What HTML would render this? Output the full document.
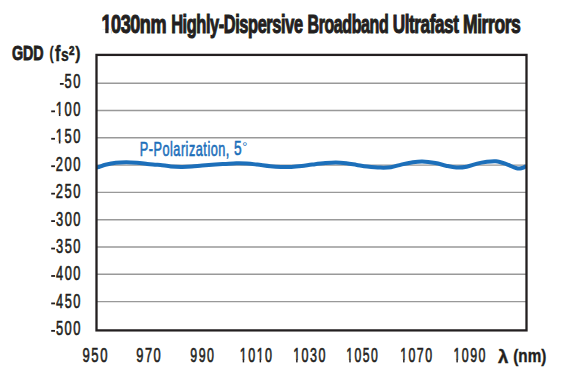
<!DOCTYPE html>
<html><head><meta charset="utf-8"><style>
html,body{margin:0;padding:0;background:#fff;width:575px;height:375px;overflow:hidden}
svg{display:block}
text{font-family:"Liberation Sans",sans-serif}
</style></head><body>
<svg width="575" height="375" viewBox="0 0 575 375">
<g stroke="#999999" stroke-width="1.4" fill="none">
<line x1="96.5" y1="83.20" x2="526.5" y2="83.20"/>
<line x1="96.5" y1="110.50" x2="526.5" y2="110.50"/>
<line x1="96.5" y1="137.80" x2="526.5" y2="137.80"/>
<line x1="96.5" y1="165.10" x2="526.5" y2="165.10"/>
<line x1="96.5" y1="192.40" x2="526.5" y2="192.40"/>
<line x1="96.5" y1="219.70" x2="526.5" y2="219.70"/>
<line x1="96.5" y1="247.00" x2="526.5" y2="247.00"/>
<line x1="96.5" y1="274.30" x2="526.5" y2="274.30"/>
<line x1="96.5" y1="301.60" x2="526.5" y2="301.60"/>
</g>
<path d="M96.60,167.60 C97.17,167.43 98.53,167.07 100.00,166.60 C101.47,166.13 102.75,165.43 105.40,164.80 C108.05,164.17 112.42,163.22 115.90,162.80 C119.38,162.38 122.83,162.30 126.30,162.30 C129.77,162.30 133.22,162.53 136.70,162.80 C140.18,163.07 144.15,163.58 147.20,163.90 C150.25,164.22 152.80,164.53 155.00,164.70 C157.20,164.87 157.75,164.62 160.40,164.90 C163.05,165.18 167.42,166.07 170.90,166.40 C174.38,166.73 177.83,166.87 181.30,166.90 C184.77,166.93 188.22,166.82 191.70,166.60 C195.18,166.38 198.25,165.93 202.20,165.60 C206.15,165.27 211.45,164.88 215.40,164.60 C219.35,164.32 222.42,164.12 225.90,163.90 C229.38,163.68 232.83,163.37 236.30,163.30 C239.77,163.23 243.22,163.28 246.70,163.50 C250.18,163.72 253.25,164.13 257.20,164.60 C261.15,165.07 266.45,165.90 270.40,166.30 C274.35,166.70 277.42,166.90 280.90,167.00 C284.38,167.10 287.83,167.07 291.30,166.90 C294.77,166.73 298.22,166.38 301.70,166.00 C305.18,165.62 308.25,165.08 312.20,164.60 C316.15,164.12 321.45,163.45 325.40,163.10 C329.35,162.75 332.42,162.47 335.90,162.50 C339.38,162.53 342.83,162.90 346.30,163.30 C349.77,163.70 353.22,164.37 356.70,164.90 C360.18,165.43 363.25,166.05 367.20,166.50 C371.15,166.95 376.45,167.48 380.40,167.60 C384.35,167.72 387.42,167.70 390.90,167.20 C394.38,166.70 397.83,165.38 401.30,164.60 C404.77,163.82 408.22,163.02 411.70,162.50 C415.18,161.98 418.25,161.42 422.20,161.50 C426.15,161.58 431.45,162.30 435.40,163.00 C439.35,163.70 442.42,164.95 445.90,165.70 C449.38,166.45 452.83,167.33 456.30,167.50 C459.77,167.67 463.22,167.35 466.70,166.70 C470.18,166.05 474.08,164.38 477.20,163.60 C480.32,162.82 482.28,162.38 485.40,162.00 C488.52,161.62 492.42,160.95 495.90,161.30 C499.38,161.65 502.83,162.93 506.30,164.10 C509.77,165.27 514.08,167.65 516.70,168.30 C519.32,168.95 520.42,168.38 522.00,168.00 C523.58,167.62 525.50,166.33 526.20,166.00" fill="none" stroke="#1c6fba" stroke-width="4" stroke-linecap="butt" stroke-linejoin="round"/>
<rect x="96.5" y="54.9" width="430.0" height="275.5" fill="none" stroke="#231f20" stroke-width="2.3"/>
<text transform="translate(101.48,32.68) scale(0.7247,1)" font-weight="700" font-size="24.93" fill="#231f20" stroke="#231f20" stroke-width="1.05" letter-spacing="-0.62">1030nm</text>
<text transform="translate(171.16,32.68) scale(0.6576,1)" font-weight="700" font-size="24.93" fill="#231f20" stroke="#231f20" stroke-width="1.05" letter-spacing="-0.62">Highly-Dispersive</text>
<text transform="translate(307.58,32.68) scale(0.6406,1)" font-weight="700" font-size="24.93" fill="#231f20" stroke="#231f20" stroke-width="1.05" letter-spacing="-0.62">Broadband</text>
<text transform="translate(392.82,32.68) scale(0.6868,1)" font-weight="700" font-size="24.93" fill="#231f20" stroke="#231f20" stroke-width="1.05" letter-spacing="-0.62">Ultrafast</text>
<text transform="translate(463.01,32.68) scale(0.7041,1)" font-weight="700" font-size="24.93" fill="#231f20" stroke="#231f20" stroke-width="1.05" letter-spacing="-0.62">Mirrors</text>
<text transform="translate(11.91,60.48) scale(0.6766,1)" font-weight="700" font-size="21.15" fill="#231f20" stroke="#231f20" stroke-width="0.85">GDD</text>
<text transform="translate(49.41,59.05) scale(0.7010,1)" font-weight="700" font-size="17.49" fill="#231f20" stroke="#231f20" stroke-width="0.35">(</text>
<text transform="translate(55.02,60.59) scale(0.7717,1)" font-weight="700" font-size="21.34" fill="#231f20" stroke="#231f20" stroke-width="0.43">f</text>
<text transform="translate(60.95,60.53) scale(0.7528,1)" font-weight="700" font-size="18.60" fill="#231f20" stroke="#231f20" stroke-width="0.37">s</text>
<text transform="translate(68.95,54.63) scale(0.7935,1)" font-weight="700" font-size="12.37" fill="#231f20" stroke="#231f20" stroke-width="0.74">2</text>
<text transform="translate(75.14,59.05) scale(0.9039,1)" font-weight="700" font-size="17.49" fill="#231f20" stroke="#231f20" stroke-width="0.35">)</text>
<text transform="translate(64.58,88.30) scale(0.6456,1)" font-weight="400" font-size="20.00" fill="#231f20" stroke="#231f20" stroke-width="0.60" letter-spacing="2.40">50</text>
<text transform="translate(55.82,115.74) scale(0.6466,1)" font-weight="400" font-size="20.00" fill="#231f20" stroke="#231f20" stroke-width="0.60" letter-spacing="2.40">100</text>
<text transform="translate(55.82,143.18) scale(0.6466,1)" font-weight="400" font-size="20.00" fill="#231f20" stroke="#231f20" stroke-width="0.60" letter-spacing="2.40">150</text>
<text transform="translate(55.75,170.62) scale(0.6486,1)" font-weight="400" font-size="20.00" fill="#231f20" stroke="#231f20" stroke-width="0.60" letter-spacing="2.40">200</text>
<text transform="translate(55.75,198.06) scale(0.6486,1)" font-weight="400" font-size="20.00" fill="#231f20" stroke="#231f20" stroke-width="0.60" letter-spacing="2.40">250</text>
<text transform="translate(55.94,225.50) scale(0.6434,1)" font-weight="400" font-size="20.00" fill="#231f20" stroke="#231f20" stroke-width="0.60" letter-spacing="2.40">300</text>
<text transform="translate(55.94,252.94) scale(0.6434,1)" font-weight="400" font-size="20.00" fill="#231f20" stroke="#231f20" stroke-width="0.60" letter-spacing="2.40">350</text>
<text transform="translate(56.07,280.38) scale(0.6400,1)" font-weight="400" font-size="20.00" fill="#231f20" stroke="#231f20" stroke-width="0.60" letter-spacing="2.40">400</text>
<text transform="translate(56.07,307.82) scale(0.6400,1)" font-weight="400" font-size="20.00" fill="#231f20" stroke="#231f20" stroke-width="0.60" letter-spacing="2.40">450</text>
<text transform="translate(55.88,335.26) scale(0.6452,1)" font-weight="400" font-size="20.00" fill="#231f20" stroke="#231f20" stroke-width="0.60" letter-spacing="2.40">500</text>
<text transform="translate(82.51,362.09) scale(0.6463,1)" font-weight="400" font-size="20.27" fill="#231f20" stroke="#231f20" stroke-width="0.61" letter-spacing="2.43">950</text>
<text transform="translate(136.21,362.09) scale(0.6356,1)" font-weight="400" font-size="20.27" fill="#231f20" stroke="#231f20" stroke-width="0.61" letter-spacing="2.43">970</text>
<text transform="translate(190.33,362.09) scale(0.6117,1)" font-weight="400" font-size="20.27" fill="#231f20" stroke="#231f20" stroke-width="0.61" letter-spacing="2.43">990</text>
<text transform="translate(239.75,362.09) scale(0.6177,1)" font-weight="400" font-size="20.27" fill="#231f20" stroke="#231f20" stroke-width="0.61" letter-spacing="2.43">1010</text>
<text transform="translate(293.15,362.09) scale(0.6177,1)" font-weight="400" font-size="20.27" fill="#231f20" stroke="#231f20" stroke-width="0.61" letter-spacing="2.43">1030</text>
<text transform="translate(346.37,362.09) scale(0.6019,1)" font-weight="400" font-size="20.27" fill="#231f20" stroke="#231f20" stroke-width="0.61" letter-spacing="2.43">1050</text>
<text transform="translate(400.16,362.09) scale(0.6098,1)" font-weight="400" font-size="20.27" fill="#231f20" stroke="#231f20" stroke-width="0.61" letter-spacing="2.43">1070</text>
<text transform="translate(453.46,362.09) scale(0.6117,1)" font-weight="400" font-size="20.27" fill="#231f20" stroke="#231f20" stroke-width="0.61" letter-spacing="2.43">1090</text>
<text transform="translate(497.89,362.61) scale(0.9937,1)" font-weight="700" font-size="18.70" fill="#231f20" stroke="#231f20" stroke-width="0.37">λ</text>
<text transform="translate(513.29,361.50) scale(0.8183,1)" font-weight="700" font-size="18.64" fill="#231f20" stroke="#231f20" stroke-width="0.37">(nm)</text>
<text transform="translate(139.77,155.69) scale(0.6076,1)" font-weight="400" font-size="20.89" fill="#1c6fba" stroke="#1c6fba" stroke-width="0.63" letter-spacing="0.84">P-Polarization,</text>
<text transform="translate(233.96,155.49) scale(0.6739,1)" font-weight="400" font-size="20.27" fill="#1c6fba" stroke="#1c6fba" stroke-width="0.61">5</text>
<text transform="translate(242.13,151.00) scale(0.9474,1)" font-weight="400" font-size="13.57" fill="#1c6fba">°</text>
<g fill="#231f20"><rect x="59.9" y="83.00" width="3.80" height="1.8"/><rect x="51.2" y="110.44" width="3.80" height="1.8"/><rect x="51.2" y="137.88" width="3.80" height="1.8"/><rect x="51.2" y="165.32" width="3.80" height="1.8"/><rect x="51.2" y="192.76" width="3.80" height="1.8"/><rect x="51.2" y="220.20" width="3.80" height="1.8"/><rect x="51.2" y="247.64" width="3.80" height="1.8"/><rect x="51.2" y="275.08" width="3.80" height="1.8"/><rect x="51.2" y="302.52" width="3.80" height="1.8"/><rect x="51.2" y="329.96" width="3.80" height="1.8"/></g>
<g><g transform="translate(101.48,32.68) scale(0.7247,1)"><rect fill="#fff" x="-1.95" y="-3.37" width="16.05" height="5.87"/><rect fill="#231f20" x="5.29" y="-3.87" width="4.47" height="4.39"/></g><g transform="translate(55.82,115.74) scale(0.6466,1)"><rect fill="#fff" x="-1.78" y="-2.09" width="13.72" height="4.59"/><rect fill="#231f20" x="4.73" y="-2.59" width="2.37" height="2.89"/></g><g transform="translate(55.82,143.18) scale(0.6466,1)"><rect fill="#fff" x="-1.78" y="-2.09" width="13.72" height="4.59"/><rect fill="#231f20" x="4.73" y="-2.59" width="2.37" height="2.89"/></g><g transform="translate(239.75,362.09) scale(0.6177,1)"><rect fill="#fff" x="-1.76" y="-2.12" width="13.85" height="4.62"/><rect fill="#231f20" x="4.79" y="-2.62" width="2.40" height="2.92"/></g><g transform="translate(239.75,362.09) scale(0.6177,1)"><rect fill="#fff" x="25.61" y="-2.12" width="13.85" height="4.62"/><rect fill="#231f20" x="32.16" y="-2.62" width="2.40" height="2.92"/></g><g transform="translate(293.15,362.09) scale(0.6177,1)"><rect fill="#fff" x="-1.76" y="-2.12" width="13.85" height="4.62"/><rect fill="#231f20" x="4.79" y="-2.62" width="2.40" height="2.92"/></g><g transform="translate(346.37,362.09) scale(0.6019,1)"><rect fill="#fff" x="-1.76" y="-2.12" width="13.85" height="4.62"/><rect fill="#231f20" x="4.79" y="-2.62" width="2.40" height="2.92"/></g><g transform="translate(400.16,362.09) scale(0.6098,1)"><rect fill="#fff" x="-1.76" y="-2.12" width="13.85" height="4.62"/><rect fill="#231f20" x="4.79" y="-2.62" width="2.40" height="2.92"/></g><g transform="translate(453.46,362.09) scale(0.6117,1)"><rect fill="#fff" x="-1.76" y="-2.12" width="13.85" height="4.62"/><rect fill="#231f20" x="4.79" y="-2.62" width="2.40" height="2.92"/></g></g>
</svg>
</body></html>
